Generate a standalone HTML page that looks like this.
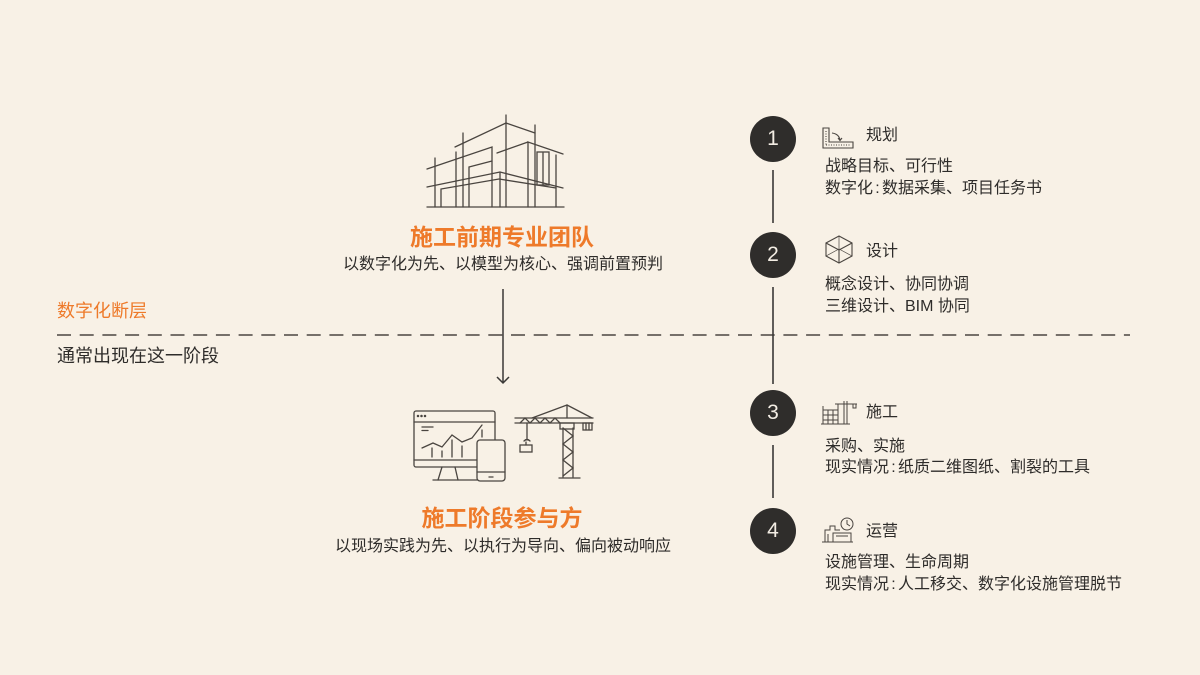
<!DOCTYPE html>
<html><head><meta charset="utf-8">
<style>
html,body{margin:0;padding:0;}
body{width:1200px;height:675px;background:#F8F1E6;position:relative;overflow:hidden;font-family:"Liberation Sans","Noto Sans CJK SC",sans-serif;color:#2e2c2a;}
.t{position:absolute;white-space:nowrap;}
.c{transform:translateX(-50%);}
.or{color:#EE7A2A;}
.b16{font-size:16px;line-height:22px;}
.b18{font-size:18px;line-height:24px;}
.h23{font-size:23px;line-height:30px;font-weight:bold;}
.col{display:inline-block;width:9px;text-align:center;}
.num{position:absolute;width:46px;height:46px;border-radius:50%;background:#2f2d2b;color:#f3ede4;font-size:21px;line-height:46px;text-align:center;}
</style></head><body>
<svg width="1200" height="675" style="position:absolute;left:0;top:0" xmlns="http://www.w3.org/2000/svg">
<g fill="none" stroke="#4a4540" stroke-width="1.3" stroke-linecap="round">
<!-- building -->
<line x1="427" y1="207" x2="564" y2="207"/>
<polyline points="455,147 506,123 535,133"/>
<line x1="506" y1="115" x2="506" y2="207"/>
<line x1="535" y1="125" x2="535" y2="207"/>
<polyline points="427,169 492,147 492,207"/>
<line x1="435" y1="158" x2="435" y2="207"/>
<line x1="456" y1="152" x2="456" y2="207"/>
<line x1="463" y1="133" x2="463" y2="207"/>
<polyline points="469,207 469,167 492,161"/>
<polyline points="427,187 500,172 563,188"/>
<polyline points="441,207 441,189 499,179 556,188"/>
<polyline points="528,207 528,142 563,154"/>
<line x1="556" y1="155" x2="556" y2="207"/>
<line x1="497" y1="153" x2="528" y2="142"/>
<rect x="537" y="152" width="12" height="33"/>
<line x1="543" y1="153" x2="543" y2="185"/>
<line x1="500" y1="172" x2="500" y2="207"/>
<!-- monitor -->
<rect x="414" y="411" width="81" height="56" rx="2"/>
<line x1="414" y1="460" x2="477" y2="460"/>
<line x1="414" y1="422" x2="495" y2="422"/>
<polyline points="442,467 438,480"/>
<polyline points="455,467 458,480"/>
<line x1="433" y1="480" x2="477" y2="480"/>
<circle cx="418" cy="416" r="0.6"/><circle cx="421.5" cy="416" r="0.6"/><circle cx="425" cy="416" r="0.6"/>
<line x1="422" y1="427" x2="433" y2="427"/>
<line x1="422" y1="430.5" x2="428" y2="430.5"/>
<polyline points="422,448 433,443 442,447 452,435 462,442 472,438 482,425"/>
<line x1="432" y1="448" x2="432" y2="457"/>
<line x1="442" y1="451" x2="442" y2="457"/>
<line x1="452" y1="440" x2="452" y2="457"/>
<line x1="462" y1="446" x2="462" y2="457"/>
<line x1="482" y1="430" x2="482" y2="437"/>
<!-- tablet -->
<rect x="477" y="440" width="28" height="41" rx="3" fill="#F8F1E6"/>
<line x1="477" y1="472" x2="505" y2="472"/>
<line x1="489" y1="477" x2="493" y2="477"/>
<!-- crane -->
<line x1="515" y1="418" x2="593" y2="418"/>
<line x1="515" y1="423" x2="593" y2="423"/>
<polyline points="520,423 525,418 530,423 535,418 540,423 545,418 550,423 555,418 560,423"/>
<line x1="567" y1="405" x2="532" y2="418"/>
<line x1="567" y1="405" x2="592" y2="418"/>
<line x1="567" y1="405" x2="567" y2="418"/>
<line x1="563" y1="428" x2="563" y2="477"/>
<line x1="573" y1="428" x2="573" y2="477"/>
<polyline points="563,428 573,436 563,444 573,452 563,460 573,468 563,476"/>
<rect x="560" y="423" width="14" height="6"/>
<line x1="559" y1="478" x2="580" y2="478"/>
<line x1="527" y1="423" x2="527" y2="440"/>
<path d="M524,441 q3,-3 6,0"/>
<rect x="520" y="445" width="12" height="7"/>
<line x1="526" y1="442" x2="526" y2="445"/>
<rect x="583" y="423" width="9" height="7"/>
<line x1="586" y1="423" x2="586" y2="430"/><line x1="589" y1="423" x2="589" y2="430"/>
</g>
<!-- arrow -->
<g stroke="#3a3836" stroke-width="1.5" fill="none">
<line x1="503" y1="289" x2="503" y2="383"/>
<polyline points="497,377 503,383 509,377"/>
</g>
<!-- dashed line -->
<line x1="57" y1="335" x2="1130" y2="335" stroke="#4a4540" stroke-width="1.5" stroke-dasharray="14 8.7"/>
<!-- timeline -->
<g stroke="#3a3836" stroke-width="1.6">
<line x1="773" y1="170" x2="773" y2="223"/>
<line x1="773" y1="287" x2="773" y2="384"/>
<line x1="773" y1="445" x2="773" y2="498"/>
</g>
<!-- icon 1 -->
<g fill="none" stroke="#4a4540" stroke-width="1.1">
<path d="M823,128 L829,128 L829,142 L853,142 L853,148 L823,148 Z"/>
<line x1="826" y1="131" x2="826" y2="145" stroke-dasharray="1 1.5"/>
<line x1="826" y1="145" x2="850" y2="145" stroke-dasharray="1 1.5"/>
<path d="M832,133 Q839,134 840,140"/>
<polyline points="838,138 840,140.5 842,138"/>
</g>
<!-- icon 2 cube -->
<g fill="none" stroke="#4a4540" stroke-width="1.1">
<polygon points="839,236 852,243 852,256 839,263 826,256 826,243"/>
<polyline points="826,243 839,250 852,243"/>
<line x1="839" y1="250" x2="839" y2="263"/>
<polyline points="826,256 839,249 852,256" stroke-width="0.7"/>
<line x1="839" y1="236" x2="839" y2="249" stroke-width="0.7"/>
</g>
<!-- icon 3 -->
<g fill="none" stroke="#4a4540" stroke-width="1">
<line x1="821" y1="424" x2="850" y2="424"/>
<rect x="823" y="410" width="15" height="14"/>
<line x1="823" y1="415" x2="838" y2="415"/><line x1="823" y1="420" x2="838" y2="420"/>
<line x1="828" y1="410" x2="828" y2="424"/><line x1="833" y1="410" x2="833" y2="424"/>
<line x1="823" y1="406" x2="823" y2="410"/>
<line x1="835" y1="404" x2="857" y2="404"/>
<line x1="844" y1="401" x2="844" y2="424"/>
<line x1="847" y1="401" x2="847" y2="424"/>
<line x1="838" y1="404" x2="838" y2="410"/>
<rect x="853" y="404" width="3" height="4"/>
</g>
<!-- icon 4 -->
<g fill="none" stroke="#4a4540" stroke-width="1">
<line x1="822" y1="542" x2="853" y2="542"/>
<polyline points="825,542 825,530 830,530 830,526 835,526 835,530 840,530"/>
<rect x="833" y="533" width="18" height="9"/>
<line x1="836" y1="536" x2="848" y2="536"/>
<line x1="828" y1="534" x2="828" y2="542"/>
<circle cx="847" cy="524" r="6"/>
<polyline points="847,520 847,524 850,526"/>
</g>
</svg>

<div class="num" style="left:750px;top:116px;">1</div>
<div class="num" style="left:750px;top:232px;">2</div>
<div class="num" style="left:750px;top:390px;">3</div>
<div class="num" style="left:750px;top:508px;">4</div>

<div class="t b16" style="left:866px;top:125px;">规划</div>
<div class="t b16" style="left:825px;top:156px;">战略目标、可行性</div>
<div class="t b16" style="left:825px;top:178px;">数字化<span class="col">:</span>数据采集、项目任务书</div>

<div class="t b16" style="left:866px;top:241px;">设计</div>
<div class="t b16" style="left:825px;top:274px;">概念设计、协同协调</div>
<div class="t b16" style="left:825px;top:296px;">三维设计、BIM 协同</div>

<div class="t b16" style="left:866px;top:402px;">施工</div>
<div class="t b16" style="left:825px;top:436px;">采购、实施</div>
<div class="t b16" style="left:825px;top:457px;">现实情况<span class="col">:</span>纸质二维图纸、割裂的工具</div>

<div class="t b16" style="left:866px;top:521px;">运营</div>
<div class="t b16" style="left:825px;top:552px;">设施管理、生命周期</div>
<div class="t b16" style="left:825px;top:574px;">现实情况<span class="col">:</span>人工移交、数字化设施管理脱节</div>

<div class="t b18 or" style="left:57px;top:299px;">数字化断层</div>
<div class="t b18" style="left:57px;top:344px;">通常出现在这一阶段</div>

<div class="t h23 or c" style="left:502px;top:222px;">施工前期专业团队</div>
<div class="t b16 c" style="left:503px;top:254px;">以数字化为先、以模型为核心、强调前置预判</div>

<div class="t h23 or c" style="left:502px;top:503px;">施工阶段参与方</div>
<div class="t b16 c" style="left:503px;top:536px;">以现场实践为先、以执行为导向、偏向被动响应</div>
</body></html>
